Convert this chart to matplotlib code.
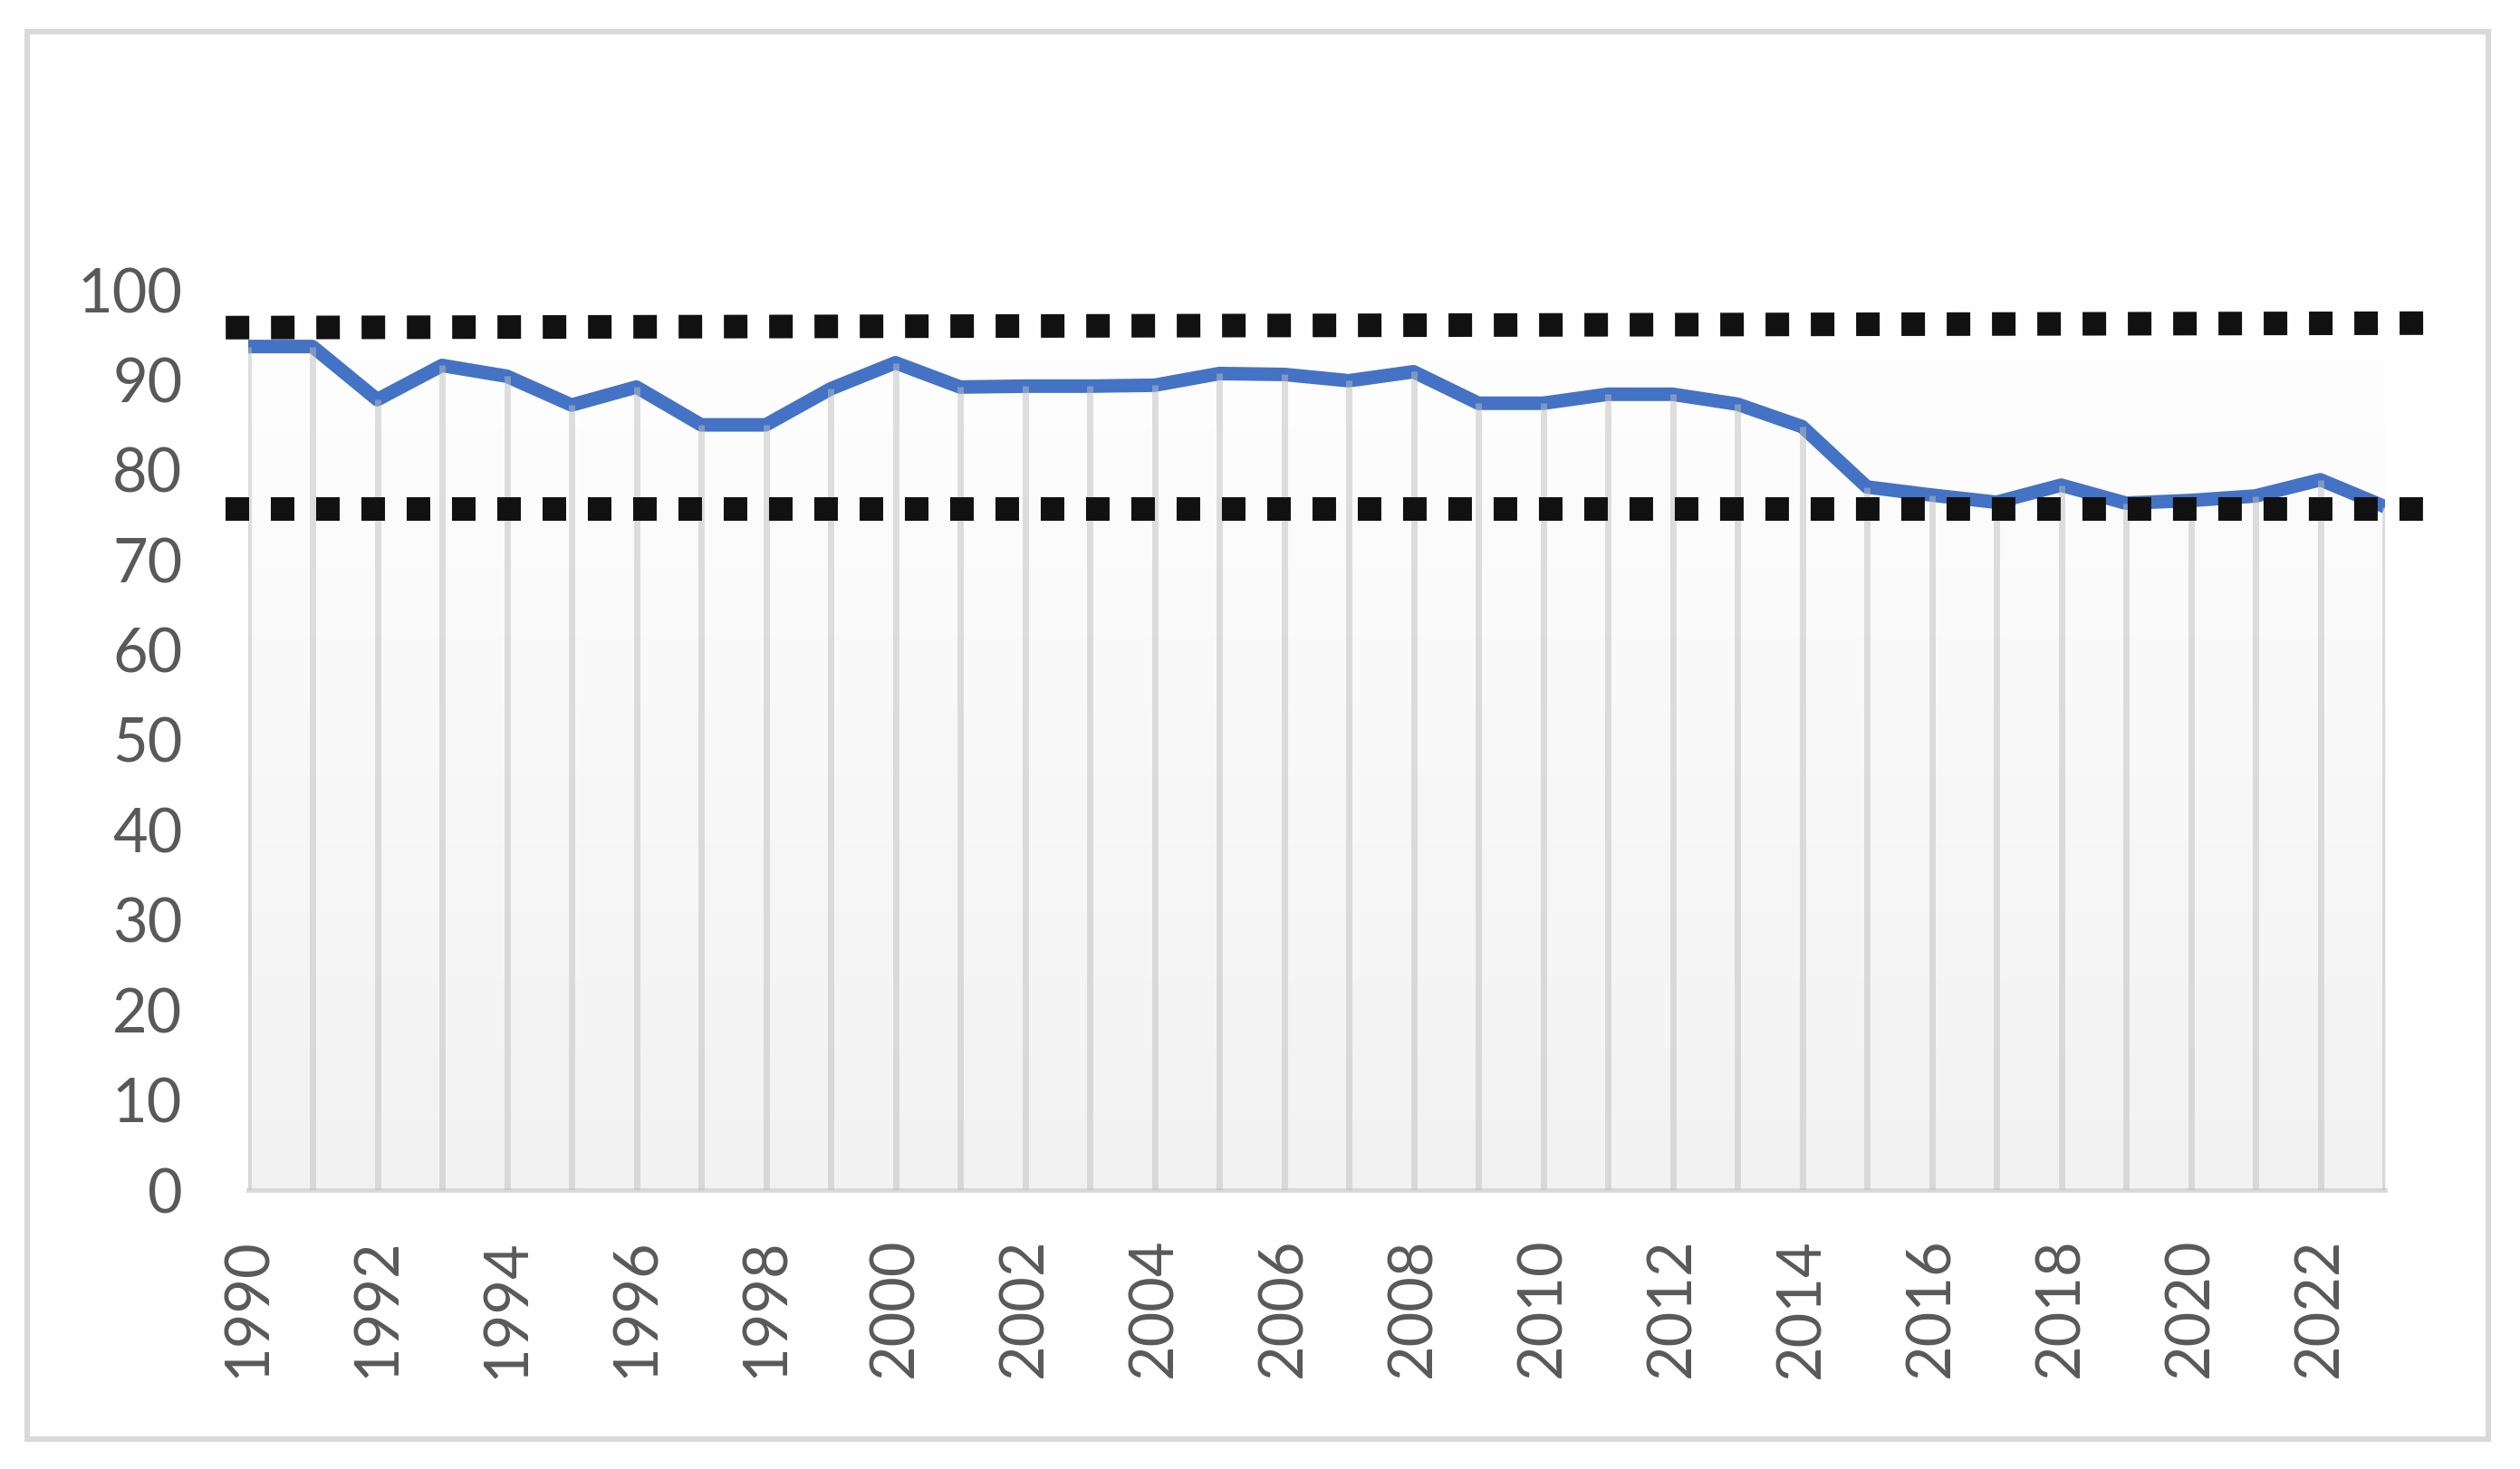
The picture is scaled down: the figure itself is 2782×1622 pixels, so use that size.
import numpy as np
import matplotlib.pyplot as plt
from matplotlib.patches import Rectangle

plt.rcParams['font.family'] = ['Lato', 'DejaVu Sans']

years = list(range(1990, 2024))
values = [93.7, 93.7, 87.8, 91.6, 90.4, 87.2, 89.2, 85.0, 85.0, 89.0,
          91.9, 89.2, 89.3, 89.3, 89.4, 90.7, 90.6, 89.9, 90.9, 87.4,
          87.4, 88.4, 88.4, 87.3, 84.8, 78.1, 77.2, 76.4, 78.3, 76.3,
          76.6, 77.1, 78.9, 75.9]

# dotted reference lines (start / end)
band_x = [1989.66, 2023.66]
upper_band = [95.8, 96.3]
lower_band = [75.7, 75.7]

xticks = list(range(1990, 2023, 2))
yticks = list(range(0, 101, 10))

W, H, dpi = 2782, 1622, 200
fig = plt.figure(figsize=(W / dpi, H / dpi), dpi=dpi)
ax = fig.add_axes([273.5 / W, (H - 1314) / H, (2633 - 273.5) / W, (1314 - 320) / H])

ax.set_xlim(1990, 2023)
ax.set_ylim(0, 100)

# plot area gradient: white at top, light gray at bottom
grad = np.linspace(1.0, 0.949, 256).reshape(-1, 1)
ax.imshow(np.dstack([grad, grad, grad]), extent=(1990, 2023, 0, 100),
          aspect='auto', origin='upper', zorder=0, interpolation='bilinear')

ax.plot(years, values, color='#4472C4', lw=5.4, solid_joinstyle='round',
        solid_capstyle='butt', zorder=2)

# drop lines
ax.vlines(years, 0, values, color='#BFBFBF', alpha=0.5, lw=2.5, zorder=3)

dot_style = dict(color='#111111', lw=9.36, linestyle=(0, (1, 0.923)),
                 dash_capstyle='butt', clip_on=False, zorder=4)
ax.plot(band_x, upper_band, **dot_style)
ax.plot(band_x, lower_band, **dot_style)

ax.set_xticks(xticks)
ax.set_xticklabels([str(y) for y in xticks], rotation=90)
ax.set_yticks(yticks)
ax.tick_params(axis='both', length=0, labelsize=24, colors='#595959')
ax.tick_params(axis='y', pad=26)
ax.tick_params(axis='x', pad=19)

for s in ['top', 'left', 'right']:
    ax.spines[s].set_visible(False)
ax.spines['bottom'].set_color('#D9D9D9')
ax.spines['bottom'].set_linewidth(1.8)

fig.patches.append(Rectangle((30 / W, (H - 1589) / H), (2747 - 30) / W, (1589 - 35) / H,
                             transform=fig.transFigure, fill=False,
                             edgecolor='#D9D9D9', lw=2.2))

plt.savefig('out.png', dpi=dpi)
